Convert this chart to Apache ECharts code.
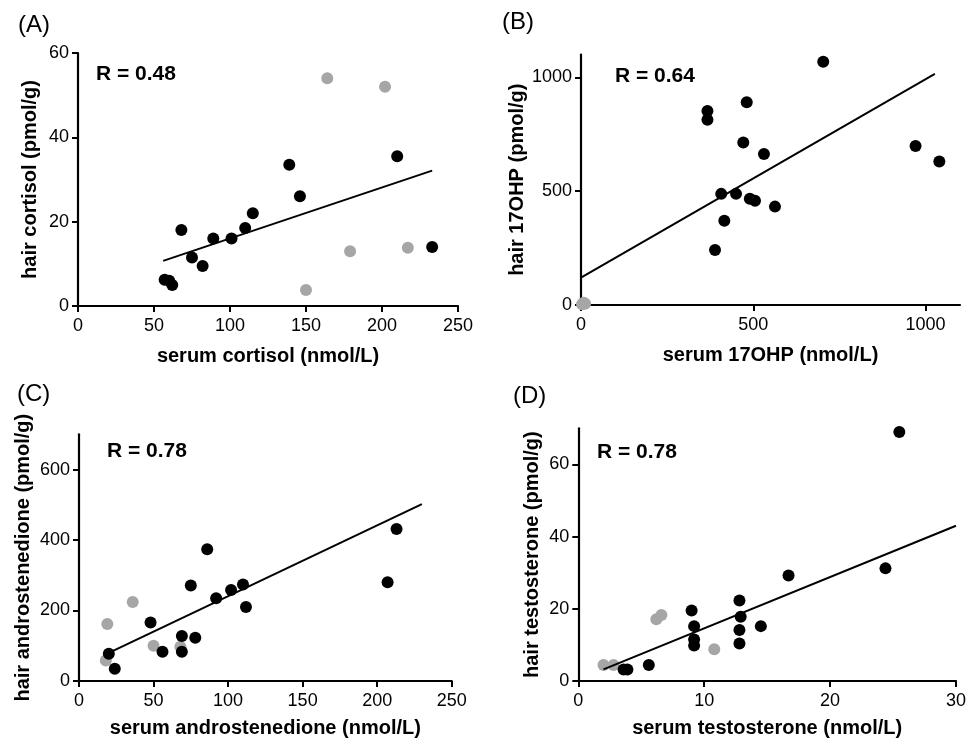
<!DOCTYPE html>
<html><head><meta charset="utf-8">
<script src="https://cdn.jsdelivr.net/npm/echarts@6/dist/echarts.min.js"></script>
<style>html,body{margin:0;padding:0;background:#fff}#c{width:969px;height:739px}</style>
</head><body><div id="c"></div>
<script>
// Panel A: cortisol
const aBlackX = [57, 60, 62, 68, 75, 82, 89, 101, 110, 115, 139, 146, 210, 233];
const aBlackY = [6.2, 6, 5, 18, 11.5, 9.5, 16, 16, 18.5, 22, 33.5, 26, 35.5, 14];
const aGrayX = [150, 164, 179, 202, 217];
const aGrayY = [3.8, 54, 13, 52, 13.8];
const aFitX = [56, 233];
const aFitY = [10.7, 32.1];
const aXTicks = [0, 50, 100, 150, 200, 250];
const aYTicks = [0, 20, 40, 60];
// Panel B: 17OHP
const bBlackX = [367, 367, 389, 407, 416, 450, 471, 481, 490, 505, 531, 563, 703, 971, 1040];
const bBlackY = [852, 813, 242, 488, 370, 488, 714, 890, 467, 458, 663, 432, 1068, 698, 630];
const bGrayX = [3, 8, 12];
const bGrayY = [3, 10, 5];
const bFitX = [0, 1027];
const bFitY = [120, 1015];
const bXTicks = [0, 500, 1000];
const bYTicks = [0, 500, 1000];
// Panel C: androstenedione
const cBlackX = [20, 24, 48, 56, 69, 69, 75, 78, 86, 92, 102, 110, 112, 207, 213];
const cBlackY = [77, 35, 166, 83, 128, 83, 271, 123, 374, 235, 258, 274, 210, 280, 431];
const cGrayX = [18, 19, 36, 50, 68];
const cGrayY = [58, 162, 224, 100, 97];
const cFitX = [20, 230];
const cFitY = [80, 502];
const cXTicks = [0, 50, 100, 150, 200, 250];
const cYTicks = [0, 200, 400, 600];
// Panel D: testosterone
const dBlackX = [3.6, 3.9, 5.6, 9.0, 9.2, 9.2, 9.2, 12.8, 12.9, 12.8, 12.8, 14.5, 16.7, 24.4, 25.5];
const dBlackY = [3.2, 3.2, 4.4, 19.5, 15.2, 11.5, 9.8, 22.3, 17.8, 14.1, 10.4, 15.2, 29.2, 31.2, 69];
const dGrayX = [2.0, 2.8, 6.2, 6.6, 10.8];
const dGrayY = [4.4, 4.4, 17.1, 18.3, 8.8];
const dFitX = [2, 30];
const dFitY = [3.2, 43];
const dXTicks = [0, 10, 20, 30];
const dYTicks = [0, 20, 40, 60];

const panelLabels = ['(A)', '(B)', '(C)', '(D)'];
const rLabels = ['R = 0.48', 'R = 0.64', 'R = 0.78', 'R = 0.78'];
const xTitles = ['serum cortisol (nmol/L)', 'serum 17OHP (nmol/L)', 'serum androstenedione (nmol/L)', 'serum testosterone (nmol/L)'];
const yTitles = ['hair cortisol (pmol/g)', 'hair 17OHP (pmol/g)', 'hair androstenedione (pmol/g)', 'hair testosterone (pmol/g)'];

const FONT = "'Liberation Sans', Arial, sans-serif";
const zip = (xs, ys) => xs.map((x, i) => [x, ys[i]]);

const panels = [
  {bx: aBlackX, by: aBlackY, gx: aGrayX, gy: aGrayY, fx: aFitX, fy: aFitY, xt: aXTicks, yt: aYTicks, xmax: 250, ymax: 60,
   grid: {left: 78, top: 53, width: 380, height: 253}, yGap: 38, xGap: 40, lab: [18, 13], r: [96, 64]},
  {bx: bBlackX, by: bBlackY, gx: bGrayX, gy: bGrayY, fx: bFitX, fy: bFitY, xt: bXTicks, yt: bYTicks, xmax: 1100, ymax: 1100,
   grid: {left: 581, top: 54.5, width: 379, height: 250.5}, yGap: 54, xGap: 40, lab: [502, 10], r: [615, 66]},
  {bx: cBlackX, by: cBlackY, gx: cGrayX, gy: cGrayY, fx: cFitX, fy: cFitY, xt: cXTicks, yt: cYTicks, xmax: 250, ymax: 700,
   grid: {left: 79, top: 434.3, width: 372.7, height: 248}, yGap: 46, xGap: 37, lab: [17, 382], r: [107, 441]},
  {bx: dBlackX, by: dBlackY, gx: dGrayX, gy: dGrayY, fx: dFitX, fy: dFitY, xt: dXTicks, yt: dYTicks, xmax: 30, ymax: 70,
   grid: {left: 578.3, top: 428.3, width: 380, height: 252.7}, yGap: 36, xGap: 37, lab: [513, 384], r: [597, 442]}
];

const axisCommon = {
  axisLine: {show: true, lineStyle: {color: '#000', width: 2.2}},
  axisTick: {show: true, inside: false, length: 6, lineStyle: {color: '#000', width: 2}},
  splitLine: {show: false},
  nameLocation: 'middle',
  nameTextStyle: {fontFamily: FONT, fontWeight: 'bold', fontSize: 20, color: '#000'}
};
const plain = v => String(v);

const grids = [], xAxes = [], yAxes = [], series = [], graphics = [];
panels.forEach((p, i) => {
  grids.push(Object.assign({}, p.grid, {containLabel: false}));
  xAxes.push(Object.assign({}, axisCommon, {
    type: 'value', gridIndex: i, min: 0, max: p.xmax,
    name: xTitles[i], nameGap: p.xGap,
    axisTick: Object.assign({}, axisCommon.axisTick, {customValues: p.xt}),
    axisLabel: {customValues: p.xt, formatter: plain, fontFamily: FONT, fontSize: 18, color: '#000', margin: 11}
  }));
  yAxes.push(Object.assign({}, axisCommon, {
    type: 'value', gridIndex: i, min: 0, max: p.ymax,
    name: yTitles[i], nameGap: p.yGap,
    axisTick: Object.assign({}, axisCommon.axisTick, {customValues: p.yt}),
    axisLabel: {customValues: p.yt, formatter: plain, fontFamily: FONT, fontSize: 18, color: '#000', margin: 9}
  }));
  series.push({type: 'scatter', xAxisIndex: i, yAxisIndex: i, data: zip(p.gx, p.gy), symbolSize: 12,
    itemStyle: {color: '#a6a6a6', opacity: 1}, z: 2, silent: true});
  series.push({type: 'scatter', xAxisIndex: i, yAxisIndex: i, data: zip(p.bx, p.by), symbolSize: 12,
    itemStyle: {color: '#000', opacity: 1}, z: 3, silent: true});
  series.push({type: 'line', xAxisIndex: i, yAxisIndex: i, data: zip(p.fx, p.fy), showSymbol: false,
    lineStyle: {color: '#000', width: 2}, z: 4, silent: true});
  graphics.push({type: 'text', left: p.lab[0], top: p.lab[1],
    style: {text: panelLabels[i], font: '24px ' + FONT, fill: '#000'}});
  graphics.push({type: 'text', left: p.r[0], top: p.r[1],
    style: {text: rLabels[i], font: 'bold 21px ' + FONT, fill: '#000'}});
});

const chart = echarts.init(document.getElementById('c'), null, {renderer: 'canvas'});
chart.setOption({
  animation: false,
  backgroundColor: '#fff',
  grid: grids, xAxis: xAxes, yAxis: yAxes, series: series, graphic: graphics
});
</script></body></html>
